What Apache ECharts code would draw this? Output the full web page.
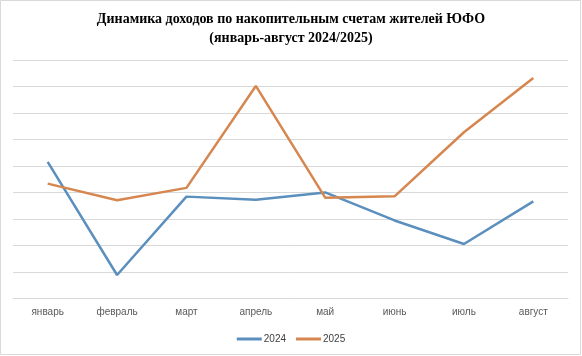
<!DOCTYPE html>
<html>
<head>
<meta charset="utf-8">
<script src="https://cdn.jsdelivr.net/npm/echarts@6/dist/echarts.min.js"></script>
<style>
html,body{margin:0;padding:0;background:#fff;}
#c{width:582px;height:356px;}
</style>
</head>
<body>
<div id="c"></div>
<script>
const categories = ['январь','февраль','март','апрель','май','июнь','июль','август'];
const series2024 = [5.15, 0.88, 3.84, 3.72, 4.0, 2.94, 2.05, 3.66];
const series2025 = [4.33, 3.70, 4.17, 8.02, 3.80, 3.85, 6.27, 8.32];
const seriesNames = ['2024', '2025'];

const chart = echarts.init(document.getElementById('c'), null, {renderer: 'canvas'});
chart.setOption({
  animation: false,
  backgroundColor: '#fff',
  title: {
    text: 'Динамика доходов по накопительным счетам жителей ЮФО\n(январь-август 2024/2025)',
    left: 'center',
    top: 5,
    textStyle: {
      fontFamily: '"Liberation Serif", "Times New Roman", serif',
      fontWeight: 'bold',
      fontSize: 14,
      lineHeight: 19,
      color: '#000'
    }
  },
  graphic: [{
    type: 'rect',
    shape: {x: 0.5, y: 0.5, width: 580, height: 354},
    style: {fill: 'none', stroke: '#d9d9d9', lineWidth: 1},
    silent: true
  }],
  legend: {
    data: seriesNames,
    bottom: 7,
    left: 'center',
    icon: 'rect',
    itemWidth: 25,
    itemHeight: 3,
    itemGap: 10,
    textStyle: {fontFamily: '"Liberation Sans", Arial, sans-serif', fontSize: 10, color: '#404040', padding: [0,0,0,-3]}
  },
  grid: {left: 13, right: 14, top: 60, bottom: 57.7},
  xAxis: {
    type: 'category',
    data: categories,
    boundaryGap: true,
    axisLine: {lineStyle: {color: '#d9d9d9', width: 1}},
    axisTick: {alignWithLabel: true, length: 4, lineStyle: {color: '#d9d9d9'}},
    axisLabel: {fontFamily: '"Liberation Sans", Arial, sans-serif', fontSize: 10, color: '#595959', margin: 9}
  },
  yAxis: {
    type: 'value',
    min: 0, max: 9, interval: 1,
    axisLabel: {show: false},
    axisLine: {show: false},
    axisTick: {show: false},
    splitLine: {lineStyle: {color: '#d9d9d9', width: 1}}
  },
  series: [
    {name: seriesNames[0], type: 'line', data: series2024, symbol: 'none',
     lineStyle: {color: '#5b8fbe', width: 2.5}, itemStyle: {color: '#5b8fbe'}},
    {name: seriesNames[1], type: 'line', data: series2025, symbol: 'none',
     lineStyle: {color: '#d6874f', width: 2.5}, itemStyle: {color: '#d6874f'}}
  ]
});
</script>
</body>
</html>
